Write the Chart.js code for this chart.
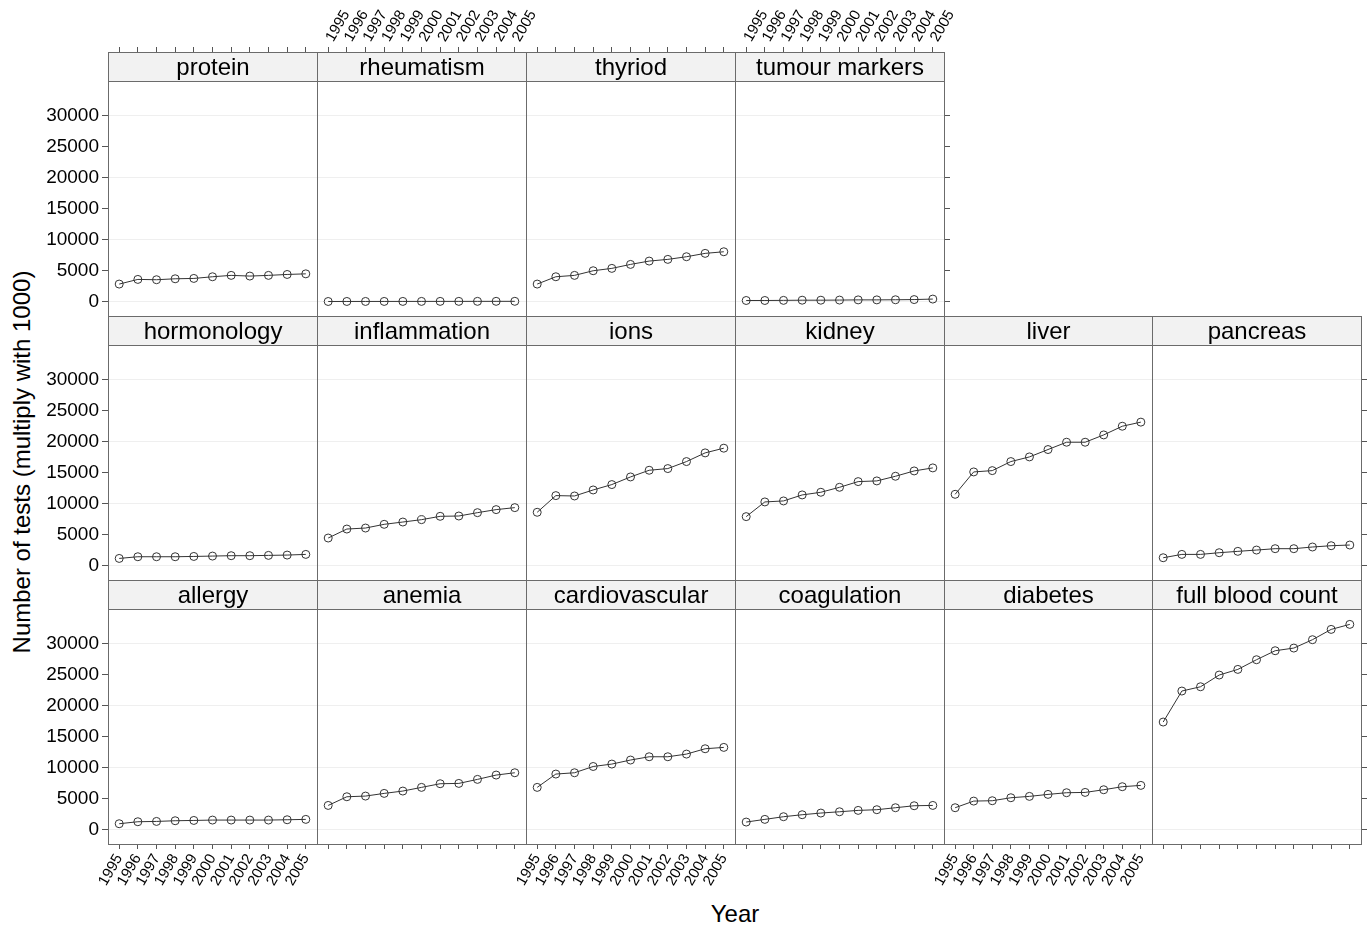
<!DOCTYPE html>
<html>
<head>
<meta charset="utf-8">
<title>Laboratory tests per year</title>
<script src="https://cdn.jsdelivr.net/npm/chart.js@4.4.1/dist/chart.umd.min.js"></script>
<style>
  html, body { margin: 0; padding: 0; background: #fff; overflow: hidden; }
  #stage { position: relative; width: 1370px; height: 926px; overflow: hidden; font-family: "Liberation Sans", Arial, sans-serif; }
  #stage canvas { position: absolute; }
  .axis-title { position: absolute; font-size: 24px; color: #000; white-space: nowrap; line-height: 1; }
</style>
</head>
<body>
<div id="stage">
  <div class="axis-title" id="ytitle">Number of tests (multiply with 1000)</div>
  <div class="axis-title" id="xtitle">Year</div>
</div>
<script>
// Years on the x axis
const years = [1995, 1996, 1997, 1998, 1999, 2000, 2001, 2002, 2003, 2004, 2005];
// Tick values on the y axis
const yTicks = [0, 5000, 10000, 15000, 20000, 25000, 30000];

// Number of tests per year (multiply with 1000), one array per test group
const protein        = [2850, 3600, 3550, 3700, 3760, 4030, 4250, 4140, 4250, 4400, 4500];
const rheumatism     = [40, 45, 48, 50, 52, 55, 58, 60, 62, 65, 68];
const thyriod        = [2850, 4030, 4250, 5000, 5380, 6020, 6560, 6830, 7260, 7800, 8060];
const tumourMarkers  = [200, 200, 220, 250, 250, 270, 300, 300, 320, 350, 430];
const hormonology    = [1180, 1450, 1450, 1450, 1500, 1560, 1620, 1620, 1670, 1720, 1830];
const inflammation   = [4470, 5920, 6080, 6680, 7050, 7430, 7970, 8020, 8560, 9050, 9370];
const ions           = [8620, 11310, 11250, 12220, 13090, 14320, 15400, 15670, 16800, 18200, 18960];
const kidney         = [7920, 10290, 10450, 11420, 11850, 12650, 13570, 13680, 14430, 15290, 15780];
const liver          = [11520, 15130, 15340, 16800, 17550, 18740, 19920, 19920, 21100, 22500, 23160];
const pancreas       = [1290, 1830, 1830, 2100, 2320, 2530, 2750, 2750, 3020, 3230, 3340];
const allergy        = [970, 1290, 1340, 1450, 1500, 1560, 1560, 1560, 1560, 1610, 1670];
const anemia         = [3920, 5320, 5430, 5860, 6240, 6830, 7420, 7470, 8120, 8820, 9190];
const cardiovascular = [6830, 8980, 9190, 10200, 10590, 11240, 11770, 11770, 12200, 13060, 13280];
const coagulation    = [1240, 1670, 2100, 2420, 2690, 2900, 3120, 3230, 3550, 3870, 3920];
const diabetes       = [3550, 4620, 4680, 5160, 5380, 5700, 5970, 6020, 6450, 6940, 7150];
const fullBloodCount = [17370, 22370, 23060, 24950, 25860, 27420, 28870, 29300, 30650, 32310, 33120];

// Panel grid: rows top to bottom, columns left to right
const panelRows = [
  [['protein', protein], ['rheumatism', rheumatism], ['thyriod', thyriod], ['tumour markers', tumourMarkers]],
  [['hormonology', hormonology], ['inflammation', inflammation], ['ions', ions], ['kidney', kidney], ['liver', liver], ['pancreas', pancreas]],
  [['allergy', allergy], ['anemia', anemia], ['cardiovascular', cardiovascular], ['coagulation', coagulation], ['diabetes', diabetes], ['full blood count', fullBloodCount]]
];

// Geometry: column edges (last one is the right edge of the grid) and row tops
const COL_EDGES = [108, 317, 526, 735, 944, 1152, 1361];
const ROW_Y = [81, 345, 609];
const PH = 235, STRIP_H = 29, M = 80;
const X_MIN = 1994.4, X_MAX = 2005.6;
const Y_MIN = -2300, Y_MAX = 35600;

const FONT = '"Liberation Sans", Arial, sans-serif';
const FRAME = '#6b6b6b';
const TICK = '#555555';
const GRID = '#efefef';
const STRIP_FILL = '#f2f2f2';
const INK = '#333333';

Chart.defaults.font.family = FONT;

// Draws the panel frame and the strip with the group name above it
const panelFrame = {
  id: 'panelFrame',
  afterDraw(chart, args, opts) {
    const { ctx, chartArea: a } = chart;
    const w = a.right - a.left, h = a.bottom - a.top;
    const sy = a.top - STRIP_H;
    ctx.save();
    ctx.fillStyle = STRIP_FILL;
    ctx.fillRect(a.left, sy, w, STRIP_H);
    ctx.strokeStyle = FRAME;
    ctx.lineWidth = 1;
    ctx.strokeRect(a.left + 0.5, sy + 0.5, w, STRIP_H);
    ctx.strokeRect(a.left + 0.5, a.top + 0.5, w, h);
    ctx.fillStyle = '#000';
    ctx.font = '24px ' + FONT;
    ctx.textAlign = 'center';
    ctx.textBaseline = 'middle';
    ctx.fillText(opts.label, a.left + w / 2 + 0.5, sy + STRIP_H / 2 + 2);
    ctx.restore();
  }
};

function fixedTicks(values) {
  return (scale) => { scale.ticks = values.map(v => ({ value: v })); };
}

function makePanel(row, col, name, values, ax) {
  const pw = COL_EDGES[col + 1] - COL_EDGES[col];
  const canvas = document.createElement('canvas');
  canvas.width = pw + 2 * M;
  canvas.height = PH + 2 * M;
  canvas.style.left = (COL_EDGES[col] - M) + 'px';
  canvas.style.top = (ROW_Y[row] - M) + 'px';
  document.getElementById('stage').appendChild(canvas);

  const xTickFont = { size: 15, family: FONT };
  const yTickFont = { size: 19, family: FONT };

  new Chart(canvas, {
    type: 'line',
    data: {
      datasets: [{
        data: years.map((yr, i) => ({ x: yr, y: values[i] })),
        borderColor: INK,
        borderWidth: 1,
        pointStyle: 'circle',
        pointRadius: 4,
        pointBorderWidth: 1,
        pointBorderColor: INK,
        pointBackgroundColor: 'rgba(0,0,0,0)',
        tension: 0,
        fill: false,
        clip: false
      }]
    },
    options: {
      responsive: false,
      animation: false,
      devicePixelRatio: 1,
      events: [],
      layout: { padding: 0 },
      plugins: {
        legend: { display: false },
        tooltip: { enabled: false },
        panelFrame: { label: name }
      },
      scales: {
        x: {
          type: 'linear', position: 'bottom', min: X_MIN, max: X_MAX,
          afterBuildTicks: fixedTicks(years),
          afterFit: (s) => { s.height = M; },
          border: { display: false },
          grid: { drawOnChartArea: false, color: 'rgba(0,0,0,0)', tickLength: 5, tickColor: ax.bottomTicks ? TICK : 'rgba(0,0,0,0)' },
          ticks: { display: ax.bottomLabels, autoSkip: false, minRotation: 60, maxRotation: 60, padding: 2, color: '#000', font: xTickFont, callback: (v) => String(v) }
        },
        xTop: {
          type: 'linear', position: 'top', min: X_MIN, max: X_MAX,
          afterBuildTicks: fixedTicks(years),
          afterFit: (s) => { s.height = M; },
          border: { display: false },
          grid: { drawOnChartArea: false, color: 'rgba(0,0,0,0)', tickLength: STRIP_H + 5, tickColor: ax.topTicks ? TICK : 'rgba(0,0,0,0)' },
          ticks: { display: ax.topLabels, autoSkip: false, minRotation: 60, maxRotation: 60, padding: 2, labelOffset: 17, color: '#000', font: xTickFont, callback: (v) => String(v) }
        },
        y: {
          type: 'linear', position: 'left', min: Y_MIN, max: Y_MAX,
          afterBuildTicks: fixedTicks(yTicks),
          afterFit: (s) => { s.width = M; },
          border: { display: false },
          grid: {
            drawOnChartArea: true, tickLength: 6,
            color: (c) => (c.tick && c.tick.value % 10000 === 0) ? GRID : 'rgba(0,0,0,0)',
            tickColor: ax.leftTicks ? TICK : 'rgba(0,0,0,0)'
          },
          ticks: { display: ax.leftLabels, padding: 3, color: '#000', font: yTickFont, callback: (v) => String(v) }
        },
        yRight: {
          type: 'linear', position: 'right', min: Y_MIN, max: Y_MAX,
          afterBuildTicks: fixedTicks(yTicks),
          afterFit: (s) => { s.width = M; },
          border: { display: false },
          grid: { drawOnChartArea: false, color: 'rgba(0,0,0,0)', tickLength: 6, tickColor: ax.rightTicks ? TICK : 'rgba(0,0,0,0)' },
          ticks: { display: false }
        }
      }
    },
    plugins: [panelFrame]
  });
}

const lastRow = panelRows.length - 1;
panelRows.forEach((cols, r) => {
  cols.forEach(([name, values], c) => {
    makePanel(r, c, name, values, {
      leftTicks: c === 0,
      leftLabels: c === 0,
      rightTicks: c === cols.length - 1,
      topTicks: r === 0,
      topLabels: r === 0 && c % 2 === 1,
      bottomTicks: r === lastRow,
      bottomLabels: r === lastRow && c % 2 === 0
    });
  });
});

// Axis titles
const yt = document.getElementById('ytitle');
yt.style.left = '22px';
yt.style.top = '462px';
yt.style.transform = 'translate(-50%, -50%) rotate(-90deg)';
const xt = document.getElementById('xtitle');
xt.style.left = '735px';
xt.style.top = '914px';
xt.style.transform = 'translate(-50%, -50%)';
</script>
</body>
</html>
